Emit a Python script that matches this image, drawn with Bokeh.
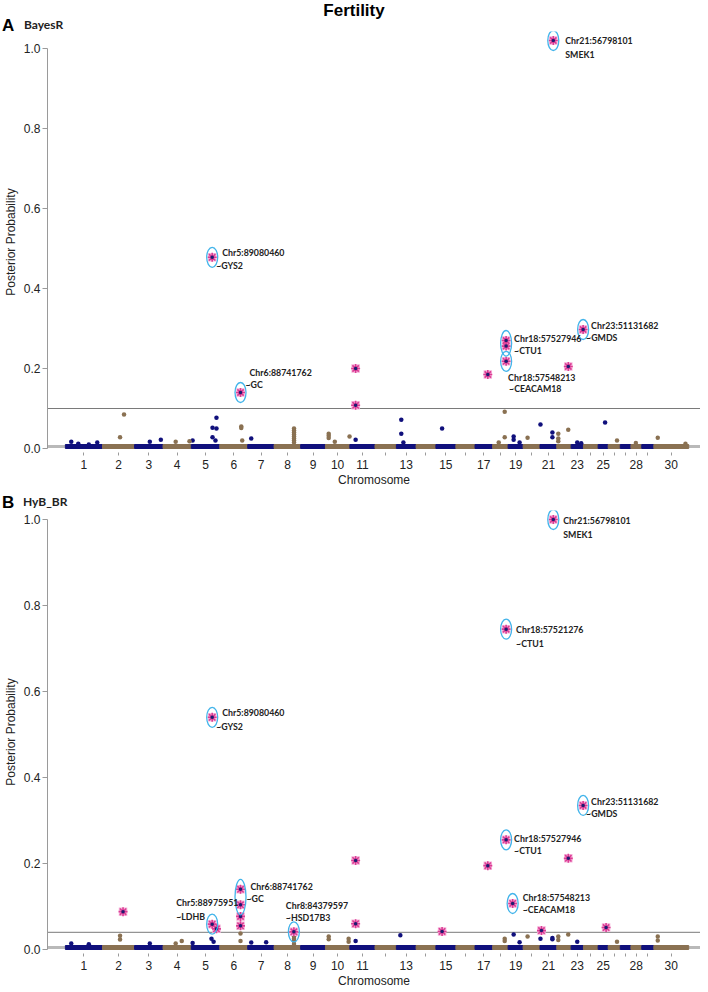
import numpy as np
from bokeh.plotting import figure
from bokeh.layouts import column
from bokeh.models import Span, FixedTicker, PrintfTickFormatter, Range1d, ColumnDataSource, Div
from bokeh.core.properties import value
from bokeh.embed import file_html
from bokeh.resources import INLINE

# ---------------- data ----------------
chrom_names = [str(i) for i in range(1, 31)]
chrom_len = [158.3, 137.1, 121.4, 120.8, 121.2, 119.5, 112.6, 113.4, 105.7, 104.3,
             107.3, 91.2, 84.2, 84.6, 85.3, 81.7, 75.2, 66.0, 64.1, 72.0,
             71.6, 61.4, 52.5, 62.7, 42.9, 51.7, 45.4, 46.3, 51.5, 148.8]
shown_labels = ["1", "2", "3", "4", "5", "6", "7", "8", "9", "10", "11", "13", "15",
                "17", "19", "21", "23", "25", "28", "30"]
y_ticks = [0.0, 0.2, 0.4, 0.6, 0.8, 1.0]

# Panel A (BayesR): background SNPs
a_bg_chr = [2, 2, 5, 5, 5, 5, 5, 5, 6, 6, 6, 7, 8, 8, 8, 8, 8, 8, 8, 8, 10, 10, 10, 10, 10, 11,
            1, 1, 1, 1, 3, 3, 4, 4, 13, 13, 13, 15, 18, 18, 18, 19, 19, 19, 20, 21, 21, 21,
            22, 22, 22, 22, 23, 23, 25, 26, 28, 30, 30]
a_bg_pos = [92, 75, 107.3, 107.3, 90.4, 90.4, 103, 5.5, 92, 92, 96, 15, 85, 85, 85, 85, 85, 85, 85, 85,
            14, 14, 14, 40, 103, 24.6, 25, 136, 55, 100, 65, 112, 54, 113, 21, 21, 30, 26.4,
            51.5, 51.5, 26, 23.6, 23.6, 49, 19, 2, 53, 53, 6.5, 6.5, 6.5, 49, 26, 43, 29.7, 37.7,
            21, 16.7, 135]
a_bg_pp = [0.085, 0.028, 0.077, 0.05, 0.052, 0.028, 0.02, 0.02, 0.055, 0.051, 0.02, 0.025,
           0.05, 0.045, 0.04, 0.035, 0.03, 0.025, 0.02, 0.015, 0.037, 0.032, 0.026, 0.017, 0.03,
           0.022, 0.017, 0.015, 0.012, 0.01, 0.017, 0.022, 0.017, 0.018, 0.072, 0.037, 0.015,
           0.05, 0.092, 0.028, 0.015, 0.03, 0.022, 0.015, 0.027, 0.06, 0.04, 0.028, 0.037,
           0.025, 0.018, 0.047, 0.015, 0.013, 0.065, 0.02, 0.014, 0.027, 0.012]
# Panel A: highlighted SNPs
a_hit_chr = [21, 5, 6, 11, 11, 17, 18, 18, 18, 22, 23]
a_hit_pos = [56.8, 89.08, 88.74, 24.6, 24.6, 54.5, 57.53, 57.53, 57.55, 49.3, 51.13]
a_hit_pp = [1.02, 0.478, 0.14, 0.2, 0.108, 0.185, 0.27, 0.256, 0.218, 0.205, 0.2975]
# Panel A: circled groups (chr, pos, low, high)
a_circ_chr = [21, 5, 6, 18, 18, 23]
a_circ_pos = [56.8, 89.08, 88.74, 57.53, 57.55, 51.13]
a_circ_lo = [1.02, 0.478, 0.14, 0.256, 0.218, 0.2975]
a_circ_hi = [1.02, 0.478, 0.14, 0.27, 0.218, 0.2975]
# Panel A: annotations
a_lab_chr = [21, 5, 6, 18, 18, 23]
a_lab_pos = [56.8, 89.08, 88.74, 57.53, 57.55, 51.13]
a_lab_pp = [1.02, 0.478, 0.14, 0.27, 0.218, 0.2975]
a_lab_snp = ["Chr21:56798101", "Chr5:89080460", "Chr6:88741762", "Chr18:57527946",
             "Chr18:57548213", "Chr23:51131682"]
a_lab_gene = ["SMEK1", "~GYS2", "~GC", "~CTU1", "~CEACAM18", "~GMDS"]

# Panel B (HyB_BR): background SNPs
b_bg_chr = [2, 2, 4, 4, 5, 5, 6, 6, 7, 7, 8, 8, 8, 8, 10, 10, 10, 10, 13, 18, 18, 19, 19, 20,
            21, 21, 22, 22, 22, 23, 26, 30, 30, 1, 1, 3, 5, 11, 21]
b_bg_pos = [75, 75, 54, 80, 86, 95, 88.7, 88.7, 15, 78.7, 85, 85, 85, 85, 14, 14, 99, 99, 17,
            51.5, 51.5, 23.6, 49, 19, 53, 53, 6.5, 6.5, 49, 26, 37.7, 16.7, 16.7, 25, 100, 65,
            5.5, 24.6, 2]
b_bg_pp = [0.032, 0.023, 0.014, 0.02, 0.025, 0.018, 0.037, 0.02, 0.016, 0.017, 0.03, 0.025,
           0.02, 0.013, 0.03, 0.024, 0.025, 0.018, 0.033, 0.025, 0.02, 0.035, 0.017, 0.03,
           0.027, 0.024, 0.03, 0.022, 0.035, 0.018, 0.018, 0.03, 0.021, 0.014, 0.012, 0.014,
           0.015, 0.02, 0.025]
# Panel B: highlighted SNPs
b_hit_chr = [21, 18, 5, 23, 18, 11, 22, 17, 6, 6, 6, 6, 19, 2, 5, 5, 8, 11, 15, 21, 25]
b_hit_pos = [56.8, 57.52, 89.08, 51.13, 57.53, 24.6, 49.3, 54.5, 88.74, 88.74, 88.74, 88.74,
             19.4, 87.8, 88.98, 107.3, 84.38, 24.6, 26.4, 6.3, 34]
b_hit_pp = [1.0, 0.745, 0.54, 0.335, 0.255, 0.207, 0.212, 0.195, 0.14, 0.104, 0.077, 0.055,
            0.107, 0.088, 0.059, 0.048, 0.041, 0.06, 0.042, 0.044, 0.051]
# Panel B: circled groups
b_circ_chr = [21, 18, 5, 23, 18, 6, 19, 5, 8]
b_circ_pos = [56.8, 57.52, 89.08, 51.13, 57.53, 88.74, 19.4, 88.98, 84.38]
b_circ_lo = [1.0, 0.745, 0.54, 0.335, 0.255, 0.104, 0.107, 0.059, 0.041]
b_circ_hi = [1.0, 0.745, 0.54, 0.335, 0.255, 0.14, 0.107, 0.059, 0.041]
# Panel B: annotations
b_lab_chr = [21, 18, 5, 23, 18, 19, 6, 5, 8]
b_lab_pos = [56.8, 57.52, 89.08, 51.13, 57.53, 19.4, 88.74, 88.98, 84.38]
b_lab_pp = [1.0, 0.745, 0.54, 0.335, 0.255, 0.107, 0.14, 0.059, 0.041]
b_lab_snp = ["Chr21:56798101", "Chr18:57521276", "Chr5:89080460", "Chr23:51131682",
             "Chr18:57527946", "Chr18:57548213", "Chr6:88741762", "Chr5:88975951",
             "Chr8:84379597"]
b_lab_gene = ["SMEK1", "~CTU1", "~GYS2", "~GMDS", "~CTU1", "~CEACAM18", "~GC", "~LDHB",
              "~HSD17B3"]

a_threshold = 0.1
b_threshold = 0.04

main_title = "Fertility"
panel_letters = ["A", "B"]
panel_methods = ["BayesR", "HyB_BR"]

# ---------------- style / layout ----------------
BLUE = "#10107c"
BROWN = "#8a7152"
PINK_FILL = "#f6b3da"
PINK_LINE = "#dc3d95"
STAR_CORE = "#1c1c70"
RING = "#42b4ea"
GRAY_BAND = "#b9b9b9"
THR = "#7a7a7a"
AXIS_GRAY = "#9a9a9a"
TXT = "#222222"
SANS = "Liberation Sans"
LAB = "Lato"

# label offsets in pixels: (dx1, dy1, dx2, dy2)
a_lab_off = [(12, 0, 12, 14), (10, -5, 4, 8), (9, -20, 5, -8), (8, -2, 8, 10),
             (2, 16, 3, 27), (8, -4, 3, 8)]
b_lab_off = [(10, 1, 10, 15), (10, 0, 10, 14), (10, -5, 4, 9), (8, -4, 3, 8), (8, -1, 8, 11),
             (10, -6, 10, 6), (10, -3, 6, 9), (-36, -22, -36, -8), (-8, -26, -8, -14)]

starts = np.concatenate([[0.0], np.cumsum(chrom_len)[:-1]])
ends = starts + np.array(chrom_len)
centers = (starts + ends) / 2.0


def gpos(chrs, poss):
    return [float(starts[c - 1] + p) for c, p in zip(chrs, poss)]


def ccol(chrs):
    return [BLUE if c % 2 == 1 else BROWN for c in chrs]


FIG_W = 700
LEFT_B = 43
FRAME_W = FIG_W - LEFT_B
PX_PER_MB = 0.2357
X_START = -(61 - LEFT_B) / PX_PER_MB
X_END = X_START + FRAME_W / PX_PER_MB


def span_html(txt, left, top, font, size, color, extra=""):
    return (f'<span style="position:absolute;left:{left}px;top:{top}px;'
            f"font-family:'{font}';font-weight:bold;font-size:{size}px;line-height:{size}px;"
            f'color:{color};white-space:nowrap;{extra}">{txt}</span>')


def header(h, spans):
    html = (f'<div style="position:relative;width:{FIG_W}px;height:{h}px;margin:0;padding:0;">'
            + "".join(spans) + "</div>")
    return Div(text=html, width=FIG_W, height=h, margin=0)


def panel(fig_h, top_b, bot_b, ppu, y_end, band_top, thr,
          bg, hits, circ, labs, offs):
    frame_h = fig_h - top_b - bot_b
    y_start = y_end - frame_h / ppu
    p = figure(width=FIG_W, height=fig_h, x_range=Range1d(X_START, X_END),
               y_range=Range1d(y_start, y_end), output_backend="svg", toolbar_location=None,
               min_border_left=LEFT_B, min_border_right=0, min_border_top=top_b,
               min_border_bottom=bot_b)
    p.outline_line_color = None
    p.grid.visible = False
    p.background_fill_color = "white"
    p.border_fill_color = "white"

    # axes
    p.yaxis.ticker = FixedTicker(ticks=y_ticks)
    p.yaxis.formatter = PrintfTickFormatter(format="%.1f")
    p.yaxis.bounds = (0, 1)
    p.yaxis.axis_line_color = AXIS_GRAY
    p.yaxis.major_tick_line_color = AXIS_GRAY
    p.yaxis.major_tick_out = 5
    p.yaxis.major_tick_in = 0
    p.yaxis.minor_tick_line_color = None
    p.yaxis.major_label_standoff = 2
    p.yaxis.major_label_text_font = SANS
    p.yaxis.major_label_text_font_size = "12px"
    p.yaxis.major_label_text_color = TXT
    p.yaxis.axis_label = "Posterior Probability"
    p.yaxis.axis_label_standoff = 3
    p.yaxis.axis_label_text_font = SANS
    p.yaxis.axis_label_text_font_size = "12px"
    p.yaxis.axis_label_text_font_style = "normal"
    p.yaxis.axis_label_text_color = TXT

    tick_vals = [int(round(c)) for c in centers]
    p.xaxis.ticker = FixedTicker(ticks=tick_vals)
    p.xaxis.major_label_overrides = {t: (n if n in shown_labels else "")
                                     for t, n in zip(tick_vals, chrom_names)}
    p.xaxis.axis_line_color = None
    p.xaxis.major_tick_line_color = AXIS_GRAY
    p.xaxis.major_tick_out = 3
    p.xaxis.major_tick_in = 0
    p.xaxis.minor_tick_line_color = None
    p.xaxis.major_label_standoff = 4
    p.xaxis.major_label_text_font = SANS
    p.xaxis.major_label_text_font_size = "12px"
    p.xaxis.major_label_text_color = TXT
    p.xaxis.axis_label = "Chromosome"
    p.xaxis.axis_label_standoff = 1
    p.xaxis.axis_label_text_font = SANS
    p.xaxis.axis_label_text_font_size = "12px"
    p.xaxis.axis_label_text_font_style = "normal"
    p.xaxis.axis_label_text_color = TXT

    # baseline gray band and threshold
    p.add_layout(Span(location=band_top * 0.5, dimension="width", line_color=GRAY_BAND,
                      line_width=3, level="underlay"))
    p.add_layout(Span(location=thr, dimension="width", line_color=THR, line_width=1,
                      level="underlay"))

    # dense background strip per chromosome
    cols = ccol(range(1, 31))
    p.quad(left=starts, right=ends, bottom=0, top=band_top, fill_color=cols,
           line_color=cols, line_width=1)

    bchr, bpos, bpp = bg
    p.scatter(gpos(bchr, bpos), bpp, size=4.5, fill_color=ccol(bchr), line_color=None)

    hchr, hpos, hpp = hits
    hx = gpos(hchr, hpos)
    p.scatter(hx, hpp, marker="square", size=8.5, fill_color=PINK_FILL, line_color=None)
    p.scatter(hx, hpp, marker="asterisk", size=9, line_color=PINK_LINE, line_width=1.6)
    p.scatter(hx, hpp, marker="circle", size=3.5, fill_color=STAR_CORE, line_color=None)

    cchr, cpos, clo, chi = circ
    cx = gpos(cchr, cpos)
    cy = [(lo + hi) / 2 for lo, hi in zip(clo, chi)]
    ch = [20 + (hi - lo) * ppu for lo, hi in zip(clo, chi)]
    p.ellipse(x=cx, y=cy, width=11, height=ch, width_units="screen", height_units="screen",
              fill_color=None, line_color=RING, line_width=1.3)

    lchr, lpos, lpp, l1, l2 = labs
    lx = gpos(lchr, lpos)
    src1 = ColumnDataSource(dict(x=lx, y=lpp, t=l1, dx=[o[0] for o in offs],
                                 dy=[o[1] for o in offs]))
    src2 = ColumnDataSource(dict(x=lx, y=lpp, t=l2, dx=[o[2] for o in offs],
                                 dy=[o[3] for o in offs]))
    for s in (src1, src2):
        p.text(x="x", y="y", text="t", x_offset="dx", y_offset="dy", source=s,
               text_font=value(LAB), text_font_style="bold", text_font_size="8.8px",
               text_color=TXT, text_align="left", text_baseline="middle")
    return p


HA, A_H, HB, B_H = 31, 461, 18, 480
hA = header(HA, [
    span_html(main_title, 0, 2, SANS, 17, "black", f"width:{FIG_W + 8}px;text-align:center;"),
    span_html(panel_letters[0], 2, 17, SANS, 17, "black"),
    span_html(panel_methods[0], 24, 19, LAB, 12, TXT),
])
pA = panel(A_H, 0, 40, 400.0, (448 - HA) / 400.0, 0.010, a_threshold,
           (a_bg_chr, a_bg_pos, a_bg_pp), (a_hit_chr, a_hit_pos, a_hit_pp),
           (a_circ_chr, a_circ_pos, a_circ_lo, a_circ_hi),
           (a_lab_chr, a_lab_pos, a_lab_pp, a_lab_snp, a_lab_gene), a_lab_off)
hB = header(HB, [
    span_html(panel_letters[1], 2, 2, SANS, 17, "black"),
    span_html(panel_methods[1], 23, 4, LAB, 12, TXT),
])
B_TOP = HA + A_H + HB
pB = panel(B_H, 0, 37, 430.0, (949 - B_TOP) / 430.0, 0.0093, b_threshold,
           (b_bg_chr, b_bg_pos, b_bg_pp), (b_hit_chr, b_hit_pos, b_hit_pp),
           (b_circ_chr, b_circ_pos, b_circ_lo, b_circ_hi),
           (b_lab_chr, b_lab_pos, b_lab_pp, b_lab_snp, b_lab_gene), b_lab_off)

layout = column(hA, pA, hB, pB, spacing=0)
open("out.html", "w").write(file_html(layout, INLINE))
